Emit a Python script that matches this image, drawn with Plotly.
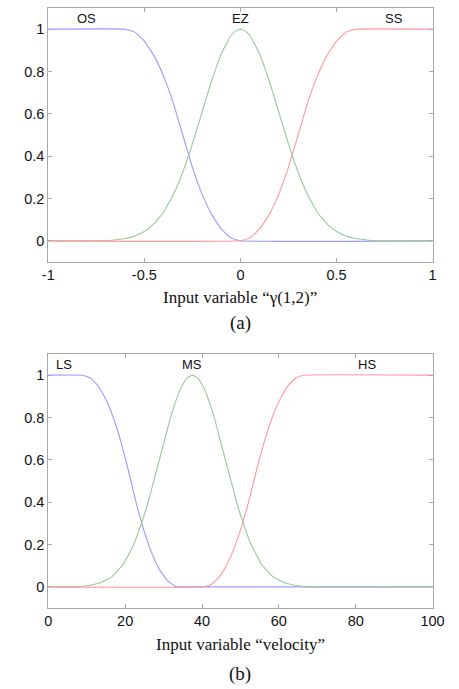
import plotly.graph_objects as go

# ---- Panel (a): input variable gamma(1,2) ----
a_os_x = [-1.0, -0.6, -0.55, -0.5, -0.45, -0.4, -0.35, -0.3, -0.25, -0.2, -0.15, -0.1, -0.05, 0.0, 1.0]
a_os_y = [1.0, 1.0, 0.986, 0.944, 0.875, 0.778, 0.653, 0.5, 0.347, 0.222, 0.125, 0.056, 0.014, 0.0, 0.0]

a_ez_x = [-1.0, -0.7, -0.65, -0.6, -0.55, -0.5, -0.45, -0.4, -0.35, -0.3, -0.25, -0.2, -0.15, -0.1, -0.05, -0.025, 0.0,
          0.025, 0.05, 0.1, 0.15, 0.2, 0.25, 0.3, 0.35, 0.4, 0.45, 0.5, 0.55, 0.6, 0.65, 0.7, 1.0]
a_ez_y = [0.0, 0.0, 0.005, 0.011, 0.023, 0.044, 0.080, 0.135, 0.216, 0.325, 0.458, 0.607, 0.755, 0.882, 0.969, 0.992, 1.0,
          0.992, 0.969, 0.882, 0.755, 0.607, 0.458, 0.325, 0.216, 0.135, 0.080, 0.044, 0.023, 0.011, 0.005, 0.0, 0.0]

a_ss_x = [-1.0, 0.0, 0.05, 0.1, 0.15, 0.2, 0.25, 0.3, 0.35, 0.4, 0.45, 0.5, 0.55, 0.6, 1.0]
a_ss_y = [0.0, 0.0, 0.014, 0.056, 0.125, 0.222, 0.347, 0.5, 0.653, 0.778, 0.875, 0.944, 0.986, 1.0, 1.0]

a_labels = ["OS", "EZ", "SS"]
a_label_x = [-0.8, 0.0, 0.8]

# ---- Panel (b): input variable velocity ----
b_ls_x = [0, 9, 11, 13, 15, 17, 19, 21, 23, 25, 27, 29, 31, 33, 34, 100]
b_ls_y = [1.0, 1.0, 0.987, 0.949, 0.885, 0.795, 0.68, 0.539, 0.387, 0.259, 0.157, 0.08, 0.029, 0.003, 0.0, 0.0]

b_ms_x = [0, 8, 10.5, 13.5, 16.5, 19.5, 22.5, 25.5, 28.5, 31.5, 33, 34.5, 36, 37.5,
          39, 40.5, 42, 43.5, 46.5, 49.5, 52.5, 55.5, 58.5, 61.5, 64.5, 67, 100]
b_ms_y = [0.0, 0.0, 0.006, 0.019, 0.047, 0.106, 0.211, 0.369, 0.571, 0.779, 0.868, 0.94, 0.985, 1.0,
          0.985, 0.94, 0.868, 0.779, 0.571, 0.369, 0.211, 0.106, 0.047, 0.019, 0.006, 0.0, 0.0]

b_hs_x = [0, 40.5, 42.5, 44.5, 46.5, 48.5, 50.5, 52.5, 54.5, 56.5, 58.5, 60.5, 62.5, 64.5, 66.5, 100]
b_hs_y = [0.0, 0.0, 0.012, 0.047, 0.107, 0.189, 0.296, 0.426, 0.574, 0.704, 0.811, 0.893, 0.953, 0.988, 1.0, 1.0]

b_labels = ["LS", "MS", "HS"]
b_label_x = [4, 37.5, 83]

a_xticks = [-1, -0.5, 0, 0.5, 1]
a_xticktext = ["-1", "-0.5", "0", "0.5", "1"]
b_xticks = [0, 20, 40, 60, 80, 100]
y_ticks = [0, 0.2, 0.4, 0.6, 0.8, 1]
y_ticktext = ["0", "0.2", "0.4", "0.6", "0.8", "1"]

BLUE = "#9a9aff"
GREEN = "#98c898"
RED = "#ff9a9a"

W, H = 459, 689
fig = go.Figure()

def add_set(xs, ys, xa, ya):
    for (x, y), c in zip(zip(xs, ys), [BLUE, GREEN, RED]):
        fig.add_trace(go.Scatter(x=x, y=y, mode="lines", line=dict(color=c, width=1.1, shape="spline", smoothing=0.3),
                                 xaxis=xa, yaxis=ya, showlegend=False, hoverinfo="skip"))

add_set([a_os_x, a_ez_x, a_ss_x], [a_os_y, a_ez_y, a_ss_y], "x", "y")
add_set([b_ls_x, b_ms_x, b_hs_x], [b_ls_y, b_ms_y, b_hs_y], "x2", "y2")

xd = [44 / W, 444 / W]
top_dom = [1 - 262 / H, 1 - 8 / H]
bot_dom = [1 - 608 / H, 1 - 354 / H]

tickfont = dict(family="Liberation Sans, Arial, sans-serif", size=14.5, color="#111")
axcommon = dict(showgrid=False, zeroline=False, showline=True, linecolor="#a8a8a8", linewidth=1,
                mirror="ticks", ticks="inside", ticklen=4, tickcolor="#a8a8a8", tickfont=tickfont)

fig.update_layout(
    width=W, height=H, margin=dict(l=0, r=0, t=0, b=0),
    paper_bgcolor="white", plot_bgcolor="white",
    xaxis=dict(domain=xd, anchor="y", range=[-1, 1], tickvals=a_xticks, ticktext=a_xticktext, **axcommon),
    yaxis=dict(domain=top_dom, anchor="x", range=[-0.1, 1.1], tickvals=y_ticks, ticktext=y_ticktext, **axcommon),
    xaxis2=dict(domain=xd, anchor="y2", range=[0, 100], tickvals=b_xticks, **axcommon),
    yaxis2=dict(domain=bot_dom, anchor="x2", range=[-0.1, 1.1], tickvals=y_ticks, ticktext=y_ticktext, **axcommon),
)

lab_font = dict(family="Liberation Sans, Arial, sans-serif", size=13, color="#111")
for t, x in zip(a_labels, a_label_x):
    fig.add_annotation(x=x, y=1.05, xref="x", yref="y", text=t, showarrow=False, font=lab_font)
for t, x in zip(b_labels, b_label_x):
    fig.add_annotation(x=x, y=1.05, xref="x2", yref="y2", text=t, showarrow=False, font=lab_font)

serif = "Liberation Serif, Times New Roman, serif"
cx = (44 + 444) / 2 / W
def ptext(text, ypix, size):
    fig.add_annotation(x=cx, y=1 - ypix / H, xref="paper", yref="paper", text=text, showarrow=False,
                       font=dict(family=serif, size=size, color="#111"), xanchor="center", yanchor="middle")

ptext("Input variable \u201c\u03b3(1,2)\u201d", 297, 17)
ptext("(a)", 323, 19)
ptext("Input variable \u201cvelocity\u201d", 644, 17)
ptext("(b)", 674, 19)

fig.write_html("out.html")
